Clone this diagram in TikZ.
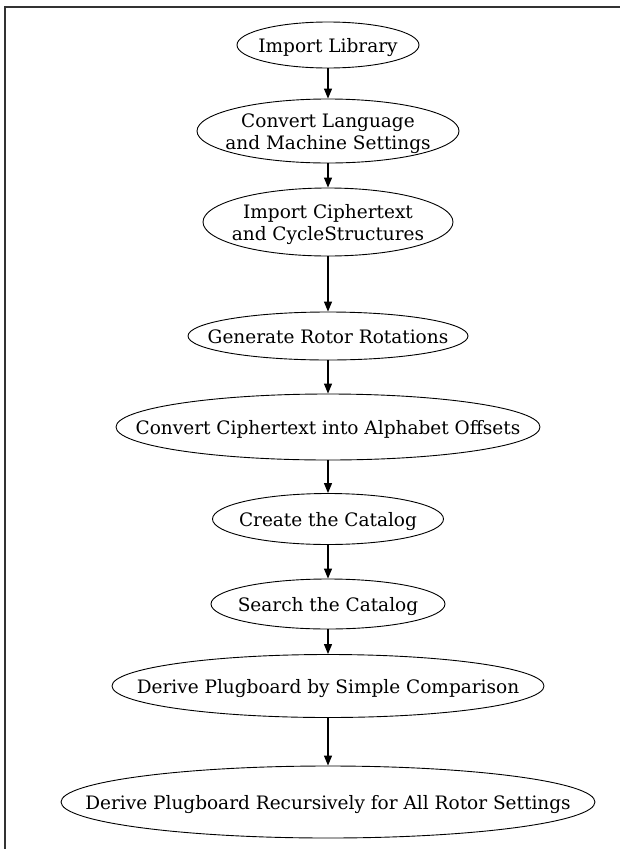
\documentclass[tikz,border=0pt]{standalone}
\usepackage{fontspec}
\setmainfont{DejaVu Serif}
\usetikzlibrary{shapes.geometric,arrows.meta}
% label with no size of its own, so the ellipse keeps the size given
\newcommand{\stagetext}[1]{\makebox[0pt]{\raisebox{-0.38em}[0pt][0pt]{\begin{tabular}{@{}c@{}}#1\end{tabular}}}}
\begin{document}
\begin{tikzpicture}[
  x=1pt, y=-1pt,
  stage/.style={ellipse, draw, inner sep=0pt, font=\fontsize{18.5}{22}\selectfont, line width=0.9pt},
  flow/.style={-{Triangle[length=10pt,width=8pt]}, line width=1.2pt},
  node distance=84pt
]
\useasboundingbox (0,0) rectangle (619,849);
% Frame
\draw[line width=1.4pt, black!80] (625,7) -- (5,7) -- (5,855);

% Stages
\node[stage, minimum width=182pt, minimum height=46pt] (lib) at (328,45) {\stagetext{Import Library}};
\node[stage, minimum width=262pt, minimum height=64pt, below of=lib, node distance=86pt] (lang) {\stagetext{Convert Language\\and Machine Settings}};
\node[stage, minimum width=250pt, minimum height=68pt, below of=lang, node distance=91pt] (cipher) {\stagetext{Import Ciphertext\\and CycleStructures}};
\node[stage, minimum width=280pt, minimum height=48pt, below of=cipher, node distance=114pt] (rot) {\stagetext{Generate Rotor Rotations}};
\node[stage, minimum width=424pt, minimum height=66pt, below of=rot, node distance=91pt] (offs) {\stagetext{Convert Ciphertext into Alphabet Offsets}};
\node[stage, minimum width=231pt, minimum height=51pt, below of=offs, node distance=92pt] (create) {\stagetext{Create the Catalog}};
\node[stage, minimum width=234pt, minimum height=50pt, below of=create, node distance=85pt] (search) {\stagetext{Search the Catalog}};
\node[stage, minimum width=432pt, minimum height=63pt, below of=search, node distance=82pt] (simple) {\stagetext{Derive Plugboard by Simple Comparison}};
\node[stage, minimum width=534pt, minimum height=72pt, below of=simple, node distance=116pt] (recur) {\stagetext{Derive Plugboard Recursively for All Rotor Settings}};

% Connections
\draw[flow] (lib) -- (lang);
\draw[flow] (lang) -- (cipher);
\draw[flow] (cipher) -- (rot);
\draw[flow] (rot) -- (offs);
\draw[flow] (offs) -- (create);
\draw[flow] (create) -- (search);
\draw[flow] (search) -- (simple);
\draw[flow] (simple) -- (recur);
\end{tikzpicture}
\end{document}
